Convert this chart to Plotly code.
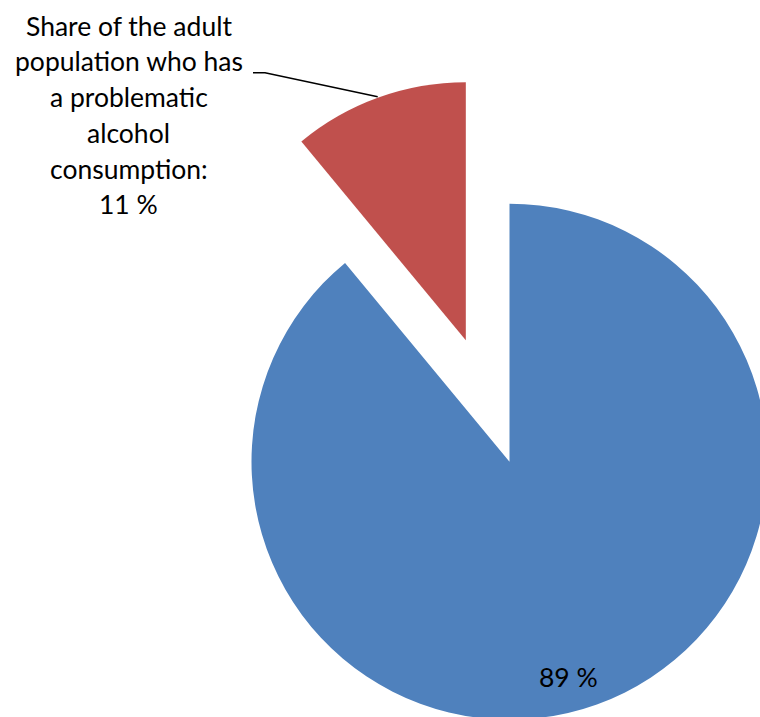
import plotly.graph_objects as go

# Data
categories = ["No problematic alcohol consumption", "Problematic alcohol consumption"]
shares = [89, 11]
colors = ["#4F81BD", "#C0504D"]
pulls = [0, 0.5]
callout_lines = ["Share of the adult", "population who has", "a problematic",
                 "alcohol", "consumption:"]

# Canvas (pixels); the visible page is the top-left 760x717 part
W, H = 1000, 1000
FONT = "Lato, 'Open Sans', sans-serif"
FONT_SIZE = 26.5
MID = 0.387 * FONT_SIZE  # baseline to middle of the text box


def px(x):
    return x / W


def py(y):
    return 1 - y / H


# Pie placement: centre and radius in pixels
cx, cy, radius = 509.5, 461.7, 258
half = radius * (1 + max(pulls))

fig = go.Figure(
    go.Pie(
        labels=categories,
        values=shares,
        sort=False,
        direction="clockwise",
        rotation=0,
        pull=pulls,
        marker=dict(colors=colors, line=dict(width=0)),
        textinfo="none",
        hoverinfo="skip",
        showlegend=False,
        domain=dict(x=[px(cx - half), px(cx + half)],
                    y=[py(cy + half), py(cy - half)]),
    )
)

annotations = []
# Callout for the pulled slice
lines = callout_lines + [f"{shares[1]} %"]
for i, line in enumerate(lines):
    baseline = 36 + i * 35.7
    annotations.append(dict(
        text=line, x=px(128.5), y=py(baseline - MID),
        xref="paper", yref="paper", xanchor="center", yanchor="middle",
        showarrow=False, font=dict(family=FONT, size=FONT_SIZE, color="#000000"),
    ))
# Label of the large slice
annotations.append(dict(
    text=f"{shares[0]} %", x=px(568), y=py(687.7 - MID),
    xref="paper", yref="paper", xanchor="center", yanchor="middle",
    showarrow=False, font=dict(family=FONT, size=FONT_SIZE, color="#000000"),
))

# Leader line from the callout to the slice edge
leader = (f"M {px(253)} {py(72.7)} L {px(265)} {py(72.7)} "
          f"L {px(377.7)} {py(96.7)}")

fig.update_layout(
    width=W, height=H,
    margin=dict(l=0, r=0, t=0, b=0),
    paper_bgcolor="white",
    plot_bgcolor="white",
    annotations=annotations,
    shapes=[dict(type="path", path=leader, xref="paper", yref="paper",
                 line=dict(color="black", width=1.5))],
)

fig.write_html(
    "out.html",
    config={"displayModeBar": False, "staticPlot": True},
    post_script="document.body.style.margin='0';"
                "document.body.style.overflow='hidden';"
                "document.documentElement.style.overflow='hidden';",
)
